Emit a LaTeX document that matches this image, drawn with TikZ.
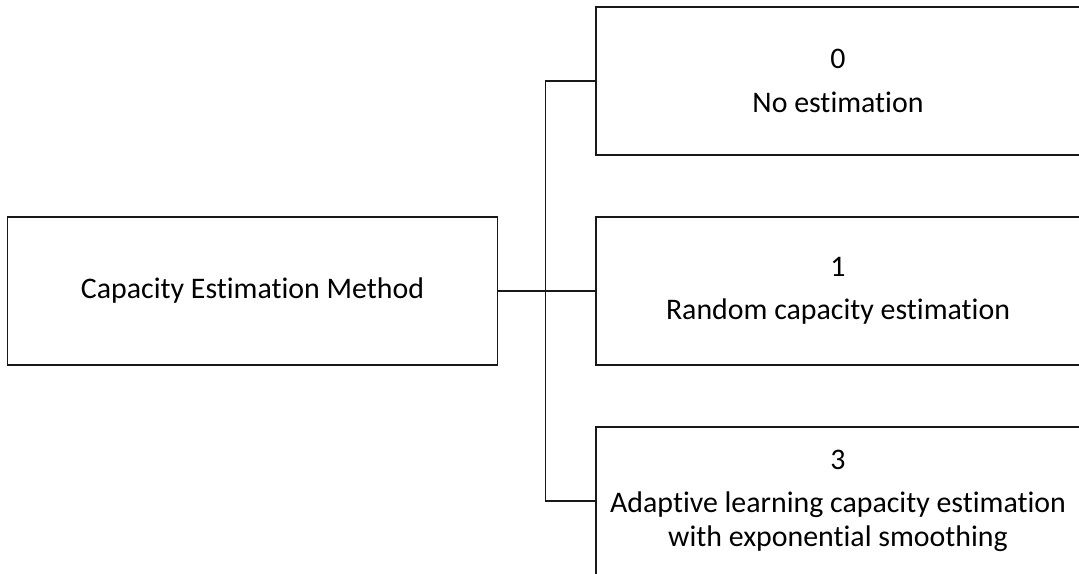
\documentclass[tikz,border=0pt]{standalone}
\usepackage{fontspec}
\setmainfont[Ligatures=NoCommon]{Carlito}
\usetikzlibrary{positioning}
\definecolor{boxline}{RGB}{25,25,25}

\begin{document}
\begin{tikzpicture}[x=0.75pt,y=-0.75pt,
  box/.style={draw=boxline,line width=0.9pt,inner sep=0pt,align=center,
    minimum height=111pt,font=\fontsize{22.4}{25.5}\selectfont}]
  \useasboundingbox (0,0) rectangle (1079,574);
  \clip (0,0) rectangle (1079,574);
  % root and the three options
  \node[box,minimum width=367pt] (cem) at (252.5,291) {Capacity Estimation Method};
  \node[box,minimum width=363pt] (m0) at (838,81) {0\\[7pt]No estimation};
  \node[box,minimum width=363pt] (m1) at (838,291) {1\\[7pt]Random capacity estimation};
  \node[box,minimum width=363pt] (m3) at (838,501) {3\\[7pt]Adaptive learning capacity estimation\\with exponential smoothing};
  % connectors
  \coordinate (bus) at (545.5,291);
  \draw[boxline,line width=0.9pt] (cem) -- (m1);
  \draw[boxline,line width=0.9pt] (m0.west) -| (bus) |- (m3.west);
\end{tikzpicture}
\end{document}
